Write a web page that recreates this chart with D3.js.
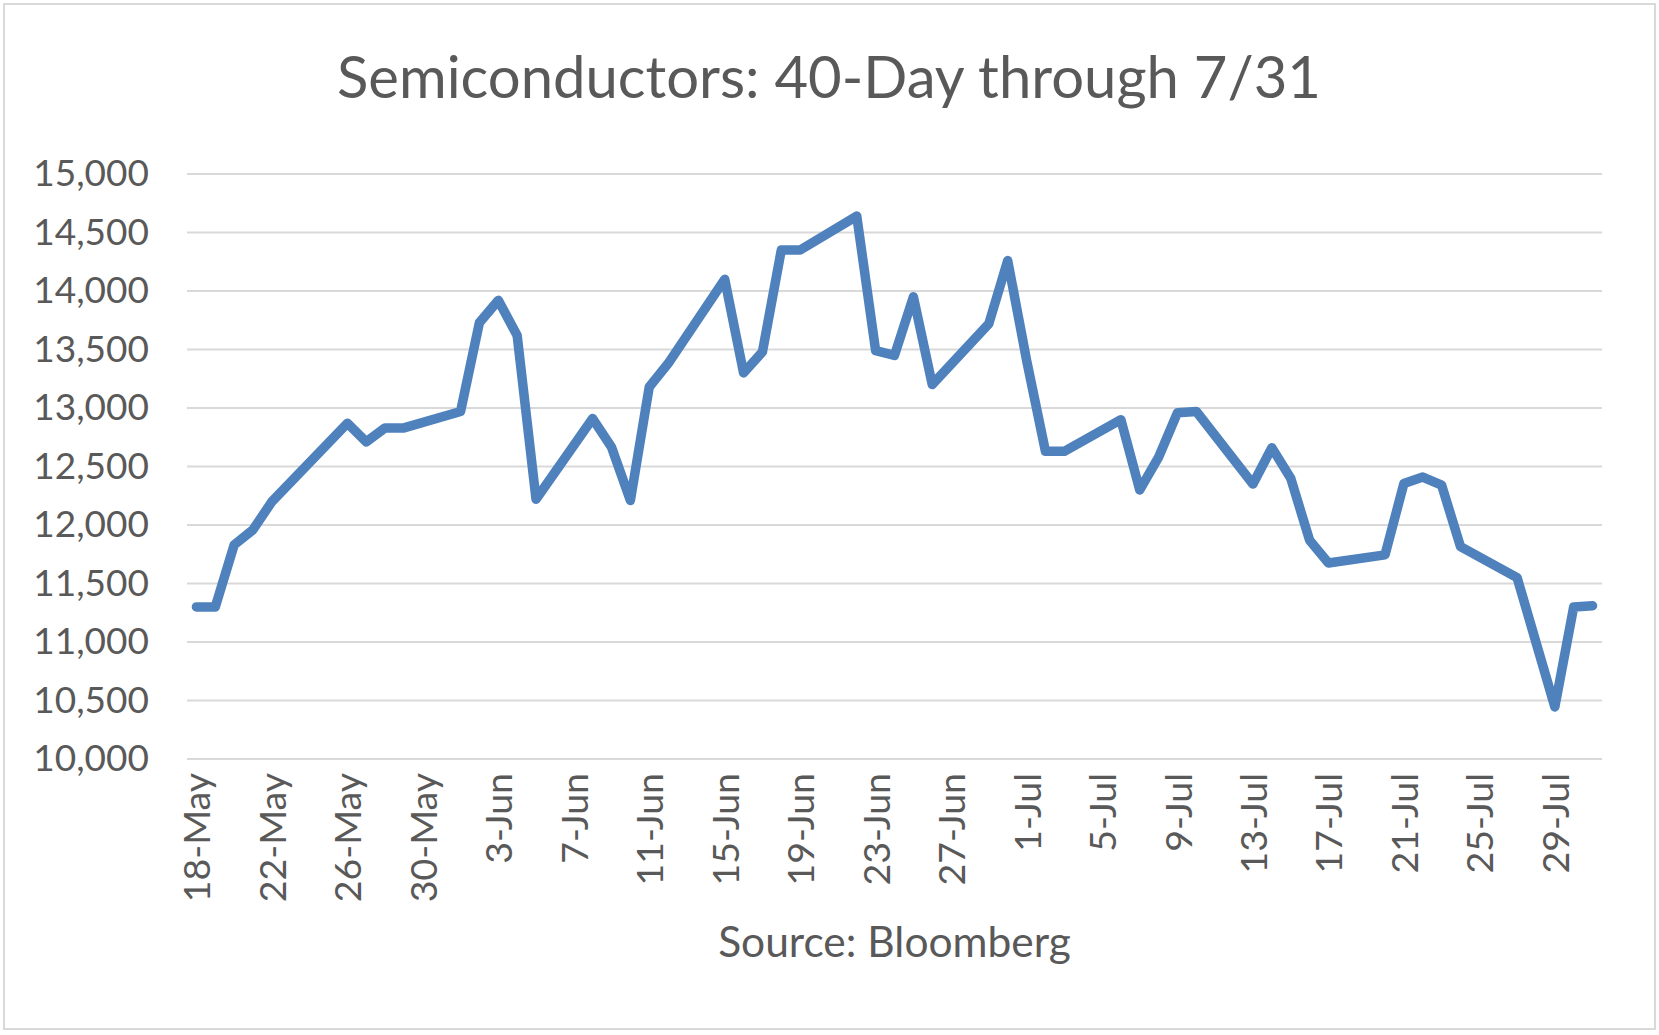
<!DOCTYPE html>
<html>
<head>
<meta charset="utf-8">
<script src="https://cdn.jsdelivr.net/npm/d3@7"></script>
<style>
  body { margin: 0; background: #fff; }
  text { font-family: Lato, "Open Sans", sans-serif; fill: #595959; }
</style>
</head>
<body>
<div id="chart"></div>
<script>
// trading days (2020), values estimated from the gridlines
const dates = [
  "2020-05-18", "2020-05-19", "2020-05-20", "2020-05-21", "2020-05-22",
  "2020-05-26", "2020-05-27", "2020-05-28", "2020-05-29",
  "2020-06-01", "2020-06-02", "2020-06-03", "2020-06-04", "2020-06-05",
  "2020-06-08", "2020-06-09", "2020-06-10", "2020-06-11", "2020-06-12",
  "2020-06-15", "2020-06-16", "2020-06-17", "2020-06-18", "2020-06-19",
  "2020-06-22", "2020-06-23", "2020-06-24", "2020-06-25", "2020-06-26",
  "2020-06-29", "2020-06-30", "2020-07-01", "2020-07-02", "2020-07-03",
  "2020-07-06", "2020-07-07", "2020-07-08", "2020-07-09", "2020-07-10",
  "2020-07-13", "2020-07-14", "2020-07-15", "2020-07-16", "2020-07-17",
  "2020-07-20", "2020-07-21", "2020-07-22", "2020-07-23", "2020-07-24",
  "2020-07-27", "2020-07-29", "2020-07-30", "2020-07-31"
];
const values = [
  11300, 11300, 11830, 11960, 12200,
  12870, 12710, 12830, 12830,
  12970, 13730, 13920, 13620, 12220,
  12910, 12665, 12210, 13180, 13380,
  14100, 13300, 13480, 14350, 14350,
  14640, 13490, 13450, 13950, 13200,
  13720, 14260, 13410, 12630, 12630,
  12900, 12300, 12580, 12960, 12970,
  12350, 12660, 12400, 11870, 11675,
  11745, 12355, 12410, 12340, 11815,
  11550, 10445, 11300, 11310
];
const yTicks = [10000, 10500, 11000, 11500, 12000, 12500, 13000, 13500, 14000, 14500, 15000];
const title = "Semiconductors: 40-Day through 7/31";
const source = "Source: Bloomberg";

const totalWidth = 1659, totalHeight = 1035;
const margin = { top: 174, right: 57, bottom: 276, left: 187 };
const width = totalWidth - margin.left - margin.right;
const height = totalHeight - margin.top - margin.bottom;

const parse = d3.utcParse("%Y-%m-%d");
const data = dates.map((d, i) => ({ date: parse(d), value: values[i] }));

// date axis: each day is a slot, points sit in the middle of it
const start = parse(dates[0]);
const end = d3.utcDay.offset(parse(dates[dates.length - 1]), 1);
const mid = d => d3.utcHour.offset(d, 12);

const x = d3.scaleUtc().domain([start, end]).range([0, width]);
const y = d3.scaleLinear().domain([10000, 15000]).range([height, 0]);

const svg = d3.select("#chart").append("svg")
    .attr("width", totalWidth)
    .attr("height", totalHeight);

// chart border
svg.append("rect")
    .attr("x", 4).attr("y", 4)
    .attr("width", totalWidth - 8).attr("height", totalHeight - 10)
    .attr("fill", "none")
    .attr("stroke", "#d9d9d9")
    .attr("stroke-width", 2);

svg.append("text")
    .attr("x", 829)
    .attr("y", 98)
    .attr("text-anchor", "middle")
    .style("font-size", "58px")
    .text(title);

const g = svg.append("g")
    .attr("transform", `translate(${margin.left},${margin.top})`);

// gridlines
g.append("g")
  .selectAll("line")
  .data(yTicks)
  .enter().append("line")
    .attr("x1", 0)
    .attr("x2", width)
    .attr("y1", d => y(d))
    .attr("y2", d => y(d))
    .attr("stroke", "#d9d9d9")
    .attr("stroke-width", 2);

// y axis
const yAxis = g.append("g")
    .call(d3.axisLeft(y).tickValues(yTicks).tickFormat(d3.format(",")).tickSize(0).tickPadding(38));
yAxis.select(".domain").remove();
yAxis.selectAll("text")
    .style("font-size", "37px")
    .attr("fill", "#595959");

// x axis, a label every 4 days
const tickDays = d3.utcDay.range(start, end, 4).map(mid);
const xAxis = g.append("g")
    .attr("transform", `translate(0,${height})`)
    .call(d3.axisBottom(x).tickValues(tickDays).tickFormat(d3.utcFormat("%-d-%b")).tickSize(0));
xAxis.select(".domain").remove();
xAxis.selectAll("text")
    .style("font-size", "37.5px")
    .attr("fill", "#595959")
    .attr("text-anchor", "end")
    .attr("transform", "rotate(-90)")
    .attr("x", -14)
    .attr("y", 0)
    .attr("dy", "0.36em");

const line = d3.line()
    .x(d => x(mid(d.date)))
    .y(d => y(d.value));

g.append("path")
    .datum(data)
    .attr("fill", "none")
    .attr("stroke", "#4f81bd")
    .attr("stroke-width", 9.5)
    .attr("stroke-linejoin", "round")
    .attr("stroke-linecap", "round")
    .attr("d", line);

svg.append("text")
    .attr("x", margin.left + width / 2)
    .attr("y", 957)
    .attr("text-anchor", "middle")
    .style("font-size", "42.5px")
    .text(source);
</script>
</body>
</html>
